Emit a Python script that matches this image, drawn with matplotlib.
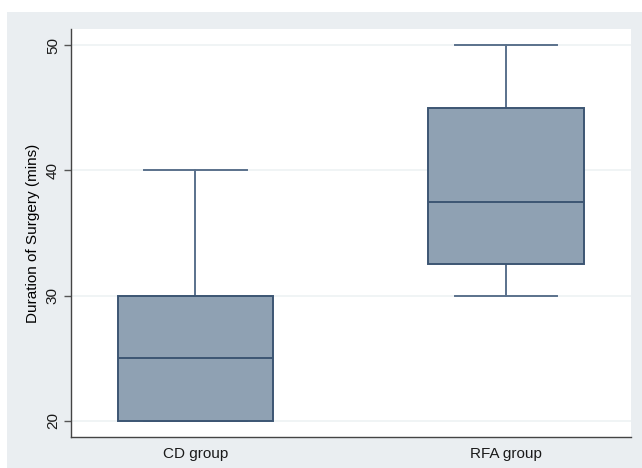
import matplotlib
matplotlib.use("Agg")
import matplotlib.pyplot as plt
from matplotlib.patches import Rectangle

groups = ["CD group", "RFA group"]
whisker_low = [20, 30]
q1 = [20, 32.5]
median = [25, 37.5]
q3 = [30, 45]
whisker_high = [40, 50]
yticks = [20, 30, 40, 50]
ylabel = "Duration of Surgery (mins)"

plt.rcParams['font.family'] = ['Liberation Sans', 'DejaVu Sans']
plt.rcParams['text.color'] = '#1a1a1a'
plt.rcParams['xtick.labelcolor'] = '#1a1a1a'
plt.rcParams['ytick.labelcolor'] = '#1a1a1a'

fig = plt.figure(figsize=(6.42, 4.68), dpi=100)
fig.patch.set_facecolor('white')
fig.patches.append(Rectangle((7/642, 0), 1 - 7/642, 1 - 12/468, transform=fig.transFigure,
                             facecolor='#eaeef1', edgecolor='none', zorder=-10))

ax = fig.add_axes([71/642, 1 - 437/468, (631 - 71)/642, (437 - 29)/468])
ax.set_zorder(5)
ax.set_facecolor('white')

stats = []
for i, g in enumerate(groups):
    stats.append(dict(label=g, whislo=whisker_low[i], q1=q1[i], med=median[i],
                      q3=q3[i], whishi=whisker_high[i], fliers=[]))

bp = ax.bxp(stats, positions=[1, 2], widths=0.5, patch_artist=True, showfliers=False,
            boxprops=dict(facecolor='#8fa1b3', edgecolor='#3c5573', linewidth=1.4),
            medianprops=dict(color='#3c5573', linewidth=1.4),
            whiskerprops=dict(color='#5a718c', linewidth=1.4),
            capprops=dict(color='#5a718c', linewidth=1.4),
            capwidths=0.33)
for art in bp['whiskers'] + bp['caps']:
    art.set_zorder(2)
for art in bp['boxes']:
    art.set_zorder(3)
for art in bp['medians']:
    art.set_zorder(4)

ax.set_xlim(0.599, 2.403)
ax.set_ylim(18.72, 51.28)
ax.set_yticks(yticks)
ax.set_yticklabels([str(t) for t in yticks], rotation=90, va='center', fontsize=11)
ax.tick_params(axis='y', length=5, width=1, color='#555555', pad=3)
ax.tick_params(axis='x', length=0, pad=7, labelsize=11)
ax.grid(axis='y', color='#eef2f4', linewidth=1.2, zorder=0)
ax.set_axisbelow(True)
for s in ['top', 'right']:
    ax.spines[s].set_visible(False)
for s in ['left', 'bottom']:
    ax.spines[s].set_color('#444444')
    ax.spines[s].set_linewidth(1.0)
ax.set_ylabel(ylabel, fontsize=11, labelpad=4)

fig.savefig('out.png', dpi=100)
